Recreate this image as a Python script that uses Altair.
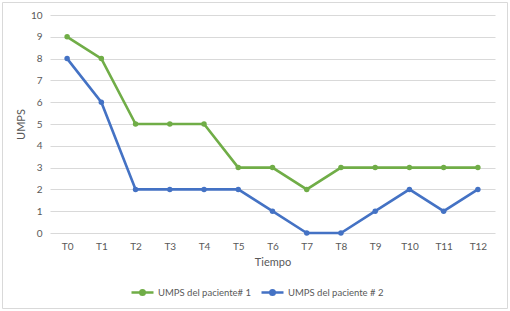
import altair as alt
import pandas as pd

tiempos = ["T0", "T1", "T2", "T3", "T4", "T5", "T6", "T7", "T8", "T9", "T10", "T11", "T12"]
paciente1 = [9, 8, 5, 5, 5, 3, 3, 2, 3, 3, 3, 3, 3]
paciente2 = [8, 6, 2, 2, 2, 2, 1, 0, 0, 1, 2, 1, 2]
series = ["UMPS del paciente# 1", "UMPS del paciente # 2"]
colores = ["#70AD47", "#4472C4"]

rows = []
for s, vals in zip(series, [paciente1, paciente2]):
    for t, v in zip(tiempos, vals):
        rows.append({"Tiempo": t, "UMPS": v, "serie": s})
df = pd.DataFrame(rows)

FONT = "Lato"
GRAY = "#595959"

lines = alt.Chart(df).mark_line(
    strokeWidth=2.6, point=alt.OverlayMarkDef(size=30, filled=True)
).encode(
    x=alt.X("Tiempo:N", sort=tiempos, scale=alt.Scale(paddingInner=1, paddingOuter=0.5),
            axis=alt.Axis(title="Tiempo", labelAngle=0, ticks=False, domain=False, grid=False,
                          labelColor=GRAY, labelFontSize=10, labelFont=FONT, labelPadding=8,
                          titleColor=GRAY, titleFontSize=11, titleFont=FONT, titleFontWeight="normal",
                          titlePadding=5)),
    y=alt.Y("UMPS:Q", scale=alt.Scale(domain=[0, 10], nice=False),
            axis=alt.Axis(title="UMPS", values=list(range(0, 11)), ticks=False, domain=False,
                          grid=True, gridColor="#d9d9d9", gridWidth=1,
                          labelColor=GRAY, labelFontSize=10, labelFont=FONT, labelPadding=8,
                          titleColor=GRAY, titleFontSize=11, titleFont=FONT, titleFontWeight="normal",
                          titlePadding=4)),
    color=alt.Color("serie:N", sort=series, scale=alt.Scale(domain=series, range=colores),
                    legend=alt.Legend(title=None, orient="none", direction="horizontal",
                                      legendX=80, legendY=265,
                                      symbolType="M-1,0H1M-0.2,0A0.2,0.2,0,1,1,0.2,0A0.2,0.2,0,1,1,-0.2,0",
                                      symbolSize=484, symbolStrokeWidth=2.6,
                                      labelColor=GRAY, labelFontSize=9.5, labelFont=FONT,
                                      columnPadding=4, labelOffset=3)),
)

frame = alt.Chart(pd.DataFrame({"a": [0]})).mark_rect(
    fill=None, stroke="#d9d9d9", strokeWidth=1
).encode(x=alt.value(-47.5), x2=alt.value(457.5), y=alt.value(-12.5), y2=alt.value(293.5))

chart = alt.layer(frame, lines).properties(
    width=445, height=218,
    padding={"left": 50, "top": 15, "right": 15, "bottom": 78},
    autosize=alt.AutoSizeParams(type="none"),
    background="white",
).configure_view(stroke=None)

chart.save("out.html", embed_options={"renderer": "svg", "actions": False})
